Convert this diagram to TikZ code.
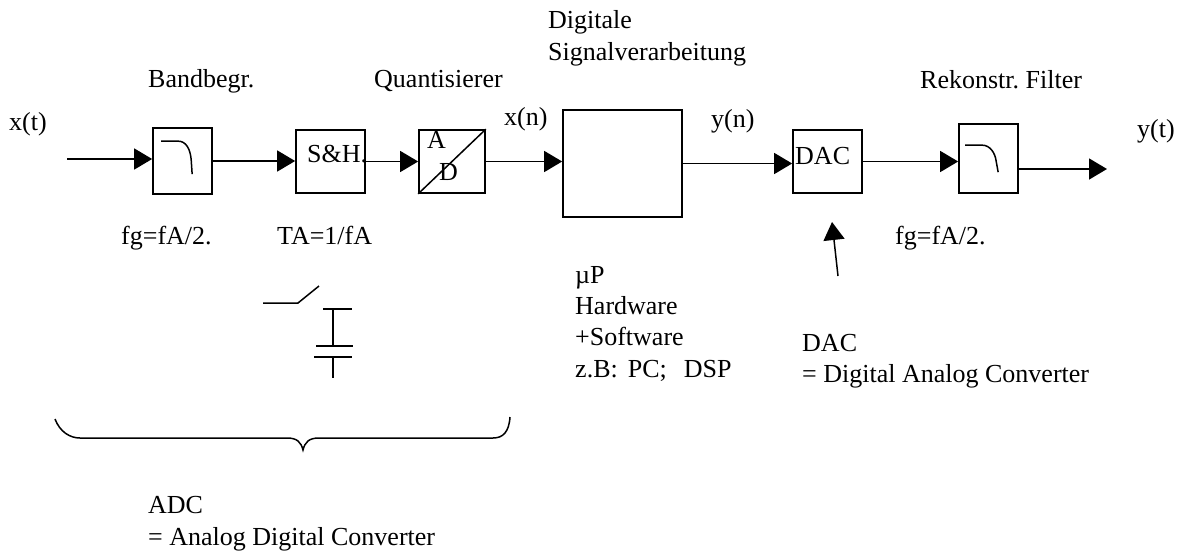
\documentclass[tikz,border=0pt]{standalone}
\usepackage{fontspec}
\setmainfont{Liberation Serif}
\usepackage{tikz}
\usetikzlibrary{arrows.meta,positioning}
\frenchspacing

\begin{document}
\begin{tikzpicture}[x=1pt,y=-1pt]
\tikzstyle{every node}+=[inner sep=0pt, font=\fontsize{26}{32}\selectfont]
\tikzstyle{blk}=[draw, black, line width=1.7pt, rectangle]
\tikzstyle{sig}=[black, line width=1.5pt, -{Triangle[length=18pt,width=21pt]}]
\tikzstyle{txt}=[anchor=base west]
\useasboundingbox (0,0) rectangle (1180,552);
\node [blk, minimum width=59pt, minimum height=66pt] (bp) at (182.5,161) {};
\node [blk, minimum width=69pt, minimum height=63pt] (sh) at (330.5,161.5) {};
\node [blk, minimum width=66pt, minimum height=63pt] (ad) at (452,161.5) {};
\node [blk, minimum width=119pt, minimum height=107pt] (dsp) at (622.5,163.5) {};
\node [blk, minimum width=69pt, minimum height=63pt] (dac) at (827.5,161.5) {};
\node [blk, minimum width=59pt, minimum height=69pt] (tp) at (988.5,158.5) {};
\draw [black, line width=1.5pt] (ad.south west) -- (ad.north east);
\begin{scope}[shift={(bp.north west)}]
\draw [black, line width=1.5pt] (9,14) -- (26,14) .. controls (34,14) and (38,22) .. (39,32) -- (40,47);
\end{scope}
\begin{scope}[shift={(tp.north west)}]
\draw [black, line width=1.5pt] (7,22) -- (24,22) .. controls (32,22) and (37,30) .. (38,38) -- (40,49);
\end{scope}
\node [txt] (shl) at (307,162) {S\&H.};
\node [txt] (adA) at (427,148) {A};
\node [txt] (adD) at (439,180) {D};
\node [txt] (dacl) at (795,164) {DAC};
\coordinate (xin) at (67,159);
\coordinate (yout) at (1107,169);
\coordinate (dacfoot) at (838,276);
\coordinate (dactip) at (832,222);
\draw [sig] (xin) -- (xin -| bp.west);
\draw [sig] (bp.east) -- (bp.east -| sh.west);
\draw [sig] (sh.east) -- (sh.east -| ad.west);
\draw [sig] (ad.east) -- (ad.east -| dsp.west);
\draw [sig] (dsp.east) -- (dsp.east -| dac.west);
\draw [sig] (dac.east) -- (dac.east -| tp.west);
\draw [sig] (tp.east |- yout) -- (yout);
\draw [sig] (dacfoot) -- (dactip);
\node [txt] (xt) at (9,130) {x(t)};
\node [txt] (lbp) at (148,87) {Bandbegr.};
\node [txt] (lq) at (374,87) {Quantisierer};
\node [txt] (xn) at (504,125) {x(n)};
\node [txt] (ld1) at (548,28) {Digitale};
\node [txt] (ld2) at (548,60) {Signalverarbeitung};
\node [txt] (yn) at (711,127) {y(n)};
\node [txt] (lrf) at (920,88) {Rekonstr. Filter};
\node [txt] (yt) at (1137,137) {y(t)};
\node [txt] (fg1) at (121,244) {fg=fA/2.};
\node [txt] (ta) at (277,244) {TA=1/fA};
\node [txt] (fg2) at (895,244) {fg=fA/2.};
\node [txt] (mup) at (575,283) {µP};
\node [txt] (hw) at (575,314) {Hardware};
\node [txt] (sw) at (575,345) {+Software};
\node [txt] (zb) at (575,377) {z.B:\hspace{10pt}PC;\hspace{17pt}DSP};
\node [txt] (dac1) at (802,351) {DAC};
\node [txt] (dac2) at (802,382) {= Digital Analog Converter};
\node [txt] (adc1) at (148,513) {ADC};
\node [txt] (adc2) at (148,545) {= Analog Digital Converter};
\draw [black, line width=1.5pt] (263,303) -- (298,303) -- (319,286);
\draw [black, line width=1.5pt] (323,309) -- (352,309);
\draw [black, line width=1.5pt] (333,309) -- (333,346);
\draw [black, line width=1.5pt] (316,346) -- (353,346);
\draw [black, line width=1.5pt] (314,357) -- (352,357);
\draw [black, line width=1.5pt] (333,357) -- (333,378);
\draw [black, line width=1.5pt] (55,419) .. controls (60,432) and (70,438) .. (80,438) -- (287,438) .. controls (297,438) and (301,442) .. (303,450) .. controls (305,442) and (309,438) .. (319,438) -- (493,438) .. controls (503,438) and (509,432) .. (510,417);
\end{tikzpicture}
\end{document}
